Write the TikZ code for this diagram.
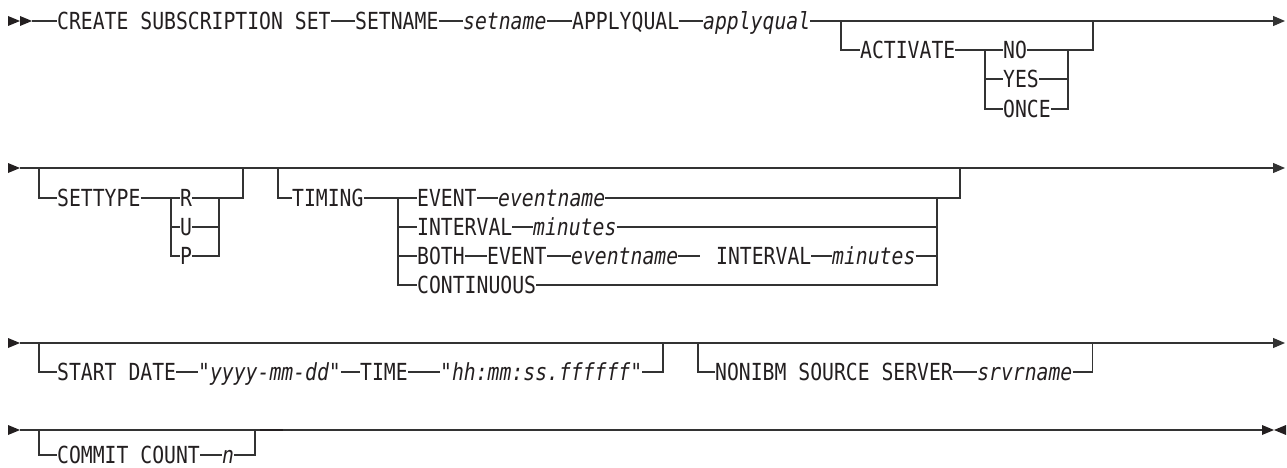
\documentclass[tikz,border=0pt]{standalone}
\usepackage{fontspec}
\newfontfamily\railfont{DejaVu Sans Mono}[FakeStretch=0.84,Ligatures=TeXOff]
\usetikzlibrary{arrows.meta}
\definecolor{ink}{HTML}{231F20}
\definecolor{rule}{HTML}{333333}

\begin{document}
\begin{tikzpicture}[x=1pt,y=-1pt,
  tok/.style={inner sep=0pt, anchor=west, text height=19pt, text depth=2pt,
              font=\railfont\fontsize{23.5}{25}\selectfont, text=ink},
  var/.style={tok, font=\railfont\itshape\fontsize{23.5}{25}\selectfont},
  rail/.style={draw=rule, line width=1.2pt},
  endarrow/.style={-{Triangle[length=12pt,width=10pt]}},
  tipfill/.style={fill=ink}
]
\useasboundingbox (0,0) rectangle (1287,468);

% ---------------- row 1 ----------------
\fill[tipfill] (8,16) -- (20,21) -- (8,26) -- cycle;
\fill[tipfill] (20,16) -- (32,21) -- (20,26) -- cycle;
\coordinate (r1s) at (32,21);
\node[tok] (cre)  at (57,21)  {CREATE SUBSCRIPTION SET};
\node[tok] (setn) at (355,21) {SETNAME};
\node[var] (setv) at (463,21) {setname};
\node[tok] (apq)  at (572,21) {APPLYQUAL};
\node[var] (apqv) at (703,21) {applyqual};
\coordinate (r1e) at (1285,21);
\draw[rail] (r1s) -- (cre);
\draw[rail] (cre) -- (setn);
\draw[rail] (setn) -- (setv);
\draw[rail] (setv) -- (apq);
\draw[rail] (apq) -- (apqv);
\draw[rail,endarrow] (apqv) -- (r1e);

% ACTIVATE option
\coordinate (b1)  at (841,21);
\node[tok] (act)  at (860,50)  {ACTIVATE};
\coordinate (b1i) at (985,50);
\node[tok] (no)   at (1003,50) {NO};
\node[tok] (yes)  at (1003,79) {YES};
\node[tok] (once) at (1003,109) {ONCE};
\coordinate (b1r) at (1068,50);
\coordinate (b1o) at (1093,50);
\coordinate (b1t) at (1093,21);
\draw[rail] (b1) |- (act);
\draw[rail] (act) -- (no);
\draw[rail] (b1i) |- (yes);
\draw[rail] (b1i) |- (once);
\draw[rail] (no) -- (b1o) -- (b1t);
\draw[rail] (yes) -| (b1r);
\draw[rail] (once) -| (b1r);

% ---------------- row 2 ----------------
\fill[tipfill] (8,163) -- (20,168) -- (8,173) -- cycle;
\coordinate (r2s) at (20,168);
\coordinate (r2e) at (1285,168);
\draw[rail,endarrow] (r2s) -- (r2e);

% SETTYPE option
\coordinate (b2)  at (39,168);
\node[tok] (st)   at (57,198)  {SETTYPE};
\coordinate (b2i) at (171,198);
\node[tok] (tr)   at (180,198) {R};
\node[tok] (tu)   at (180,227) {U};
\node[tok] (tp)   at (180,256) {P};
\coordinate (b2r) at (219,198);
\coordinate (b2o) at (243,198);
\coordinate (b2t) at (243,168);
\draw[rail] (b2) |- (st);
\draw[rail] (st) -- (tr);
\draw[rail] (b2i) |- (tu);
\draw[rail] (b2i) |- (tp);
\draw[rail] (tr) -- (b2o) -- (b2t);
\draw[rail] (tu) -| (b2r);
\draw[rail] (tp) -| (b2r);

% TIMING option
\coordinate (b3)  at (278,168);
\node[tok] (tim)  at (292,198) {TIMING};
\coordinate (b3i) at (398,198);
\node[tok] (ev1)  at (417,198) {EVENT};
\node[var] (evn1) at (498,198) {eventname};
\node[tok] (int1) at (417,227) {INTERVAL};
\node[var] (min1) at (533,227) {minutes};
\node[tok] (both) at (417,256) {BOTH};
\node[tok] (ev2)  at (487,256) {EVENT};
\node[var] (evn2) at (571,256) {eventname};
\coordinate (gap) at (700,256);
\node[tok] (int2) at (716,256) {INTERVAL};
\node[var] (min2) at (832,256) {minutes};
\node[tok] (cont) at (417,285) {CONTINUOUS};
\coordinate (b3r) at (937,198);
\coordinate (b3o) at (960,198);
\coordinate (b3t) at (960,168);
\draw[rail] (b3) |- (tim);
\draw[rail] (tim) -- (ev1);
\draw[rail] (ev1) -- (evn1);
\draw[rail] (evn1) -- (b3o) -- (b3t);
\draw[rail] (b3i) |- (int1);
\draw[rail] (int1) -- (min1);
\draw[rail] (min1) -| (b3r);
\draw[rail] (b3i) |- (both);
\draw[rail] (both) -- (ev2);
\draw[rail] (ev2) -- (evn2);
\draw[rail] (evn2) -- (gap);
\draw[rail] (int2) -- (min2);
\draw[rail] (min2) -| (b3r);
\draw[rail] (b3i) |- (cont);
\draw[rail] (cont) -| (b3r);

% ---------------- row 3 ----------------
\fill[tipfill] (8,338) -- (20,343) -- (8,348) -- cycle;
\coordinate (r3s) at (20,343);
\coordinate (r3e) at (1285,343);
\draw[rail,endarrow] (r3s) -- (r3e);

% START option
\coordinate (b4)  at (39,343);
\node[tok] (sd)   at (57,372)  {START DATE};
\node[var] (ymd)  at (198,372) {"yyyy-mm-dd"};
\node[tok] (time) at (360,372) {TIME};
\node[var] (hms)  at (440,372) {"hh:mm:ss.ffffff"};
\coordinate (b4r) at (663,372);
\coordinate (b4t) at (663,343);
\draw[rail] (b4) |- (sd);
\draw[rail] (sd) -- (ymd);
\draw[rail] (ymd) -- (time);
\draw[rail] (time) -- (hms);
\draw[rail] (hms) -- (b4r) -- (b4t);

% NONIBM option
\coordinate (b5)  at (698,343);
\node[tok] (non)  at (715,372) {NONIBM SOURCE SERVER};
\node[var,anchor=west] (srv) at ([xshift=24pt]non.east) {srvrname};
\coordinate (b5r) at ([xshift=20pt]srv.east);
\coordinate (b5t) at (b5r |- b5);
\draw[rail] (b5) |- (non);
\draw[rail] (non) -- (srv);
\draw[rail] (srv) -- (b5r) -- (b5t);

% ---------------- row 4 ----------------
\fill[tipfill] (8,425) -- (20,430) -- (8,435) -- cycle;
\coordinate (r4s) at (20,430);
\coordinate (r4e) at (1262,430);
\draw[rail] (r4s) -- (r4e);
\draw[draw=ink, line width=1.9pt] (260,430) -- (283,430);
\fill[tipfill] (1262,425) -- (1274,430) -- (1262,435) -- cycle;
\fill[tipfill] (1286,425) -- (1274,430) -- (1286,435) -- cycle;

% COMMIT COUNT option
\coordinate (b6)  at (39,430);
\node[tok] (cc)   at (57,455)  {COMMIT COUNT};
\node[var] (nv)   at (222,455) {n};
\coordinate (b6r) at (255,455);
\coordinate (b6t) at (255,430);
\draw[rail] (b6) |- (cc);
\draw[rail] (cc) -- (nv);
\draw[rail] (nv) -- (b6r) -- (b6t);
\end{tikzpicture}
\end{document}
